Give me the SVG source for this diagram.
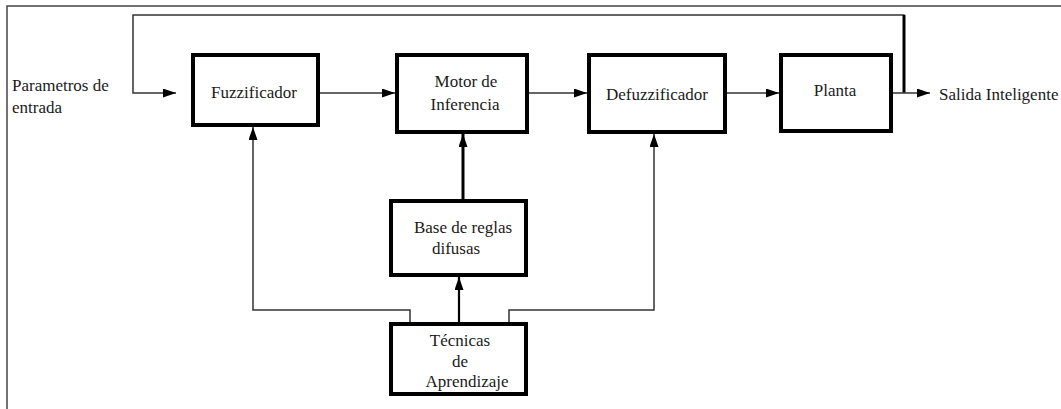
<svg xmlns="http://www.w3.org/2000/svg" width="1061" height="409" viewBox="0 0 1061 409">
<style>
.box{fill:#fff;stroke:#000;stroke-width:4}
.t{font-size:17px;fill:#1a1a1a;text-anchor:middle}
.l{text-anchor:start}
.c{fill:none;stroke:#333;stroke-width:1.5}
.ck{fill:none;stroke:#000;stroke-width:3}
</style>
<defs>
<marker id="ah" markerUnits="userSpaceOnUse" markerWidth="14" markerHeight="10" refX="13" refY="4.5" orient="auto">
<path d="M0,0 L13,4.5 L0,9 Z" fill="#000"/>
</marker>
</defs>
<rect width="1061" height="409" fill="#fff"/>
<path d="M7,409 V6 H1061" fill="none" stroke="#444" stroke-width="1.5"/>
<g id="connectors">
<path class="c" d="M904,93 V15 H133 V93 H176" marker-end="url(#ah)"/>
<path class="ck" d="M904,93 V15"/>
<path class="c" d="M893,93 H930" marker-end="url(#ah)"/>
<path class="c" d="M320,93 H395" marker-end="url(#ah)"/>
<path class="c" d="M529,93 H587" marker-end="url(#ah)"/>
<path class="c" d="M727,93 H779" marker-end="url(#ah)"/>
<path class="ck" d="M463,199 V134" marker-end="url(#ah)"/>
<path class="c" d="M459,322 V277" marker-end="url(#ah)" style="stroke-width:2.2;stroke:#000"/>
<path class="c" d="M410,322 V310 H253 V127" marker-end="url(#ah)"/>
<path class="c" d="M509,322 V310 H654 V134" marker-end="url(#ah)"/>
</g>
<g font-family="Liberation Serif, Times New Roman, serif">
<g id="input-label">
<text class="t l" x="12" y="91">Parametros de</text>
<text class="t l" x="12" y="113">entrada</text>
</g>
<g id="fuzzificador">
<rect class="box" x="193" y="55" width="125" height="70"/>
<text class="t" x="254" y="98">Fuzzificador</text>
</g>
<g id="motor">
<rect class="box" x="397" y="55" width="130" height="77"/>
<text class="t" x="466" y="87">Motor de</text>
<text class="t" x="465" y="110">Inferencia</text>
</g>
<g id="defuzzificador">
<rect class="box" x="589" y="55" width="136" height="77"/>
<text class="t" x="657" y="100">Defuzzificador</text>
</g>
<g id="planta">
<rect class="box" x="781" y="55" width="110" height="76"/>
<text class="t" x="835" y="96">Planta</text>
</g>
<g id="output-label">
<text class="t l" x="939" y="100">Salida Inteligente</text>
</g>
<g id="base-reglas">
<rect class="box" x="391" y="201" width="135" height="74"/>
<text class="t" x="463" y="233">Base de reglas</text>
<text class="t" x="456" y="254">difusas</text>
</g>
<g id="tecnicas">
<rect class="box" x="391" y="324" width="135" height="70"/>
<text class="t" x="460" y="346">Técnicas</text>
<text class="t" x="460" y="367">de</text>
<text class="t" x="467" y="387">Aprendizaje</text>
</g>
</g>
</svg>
